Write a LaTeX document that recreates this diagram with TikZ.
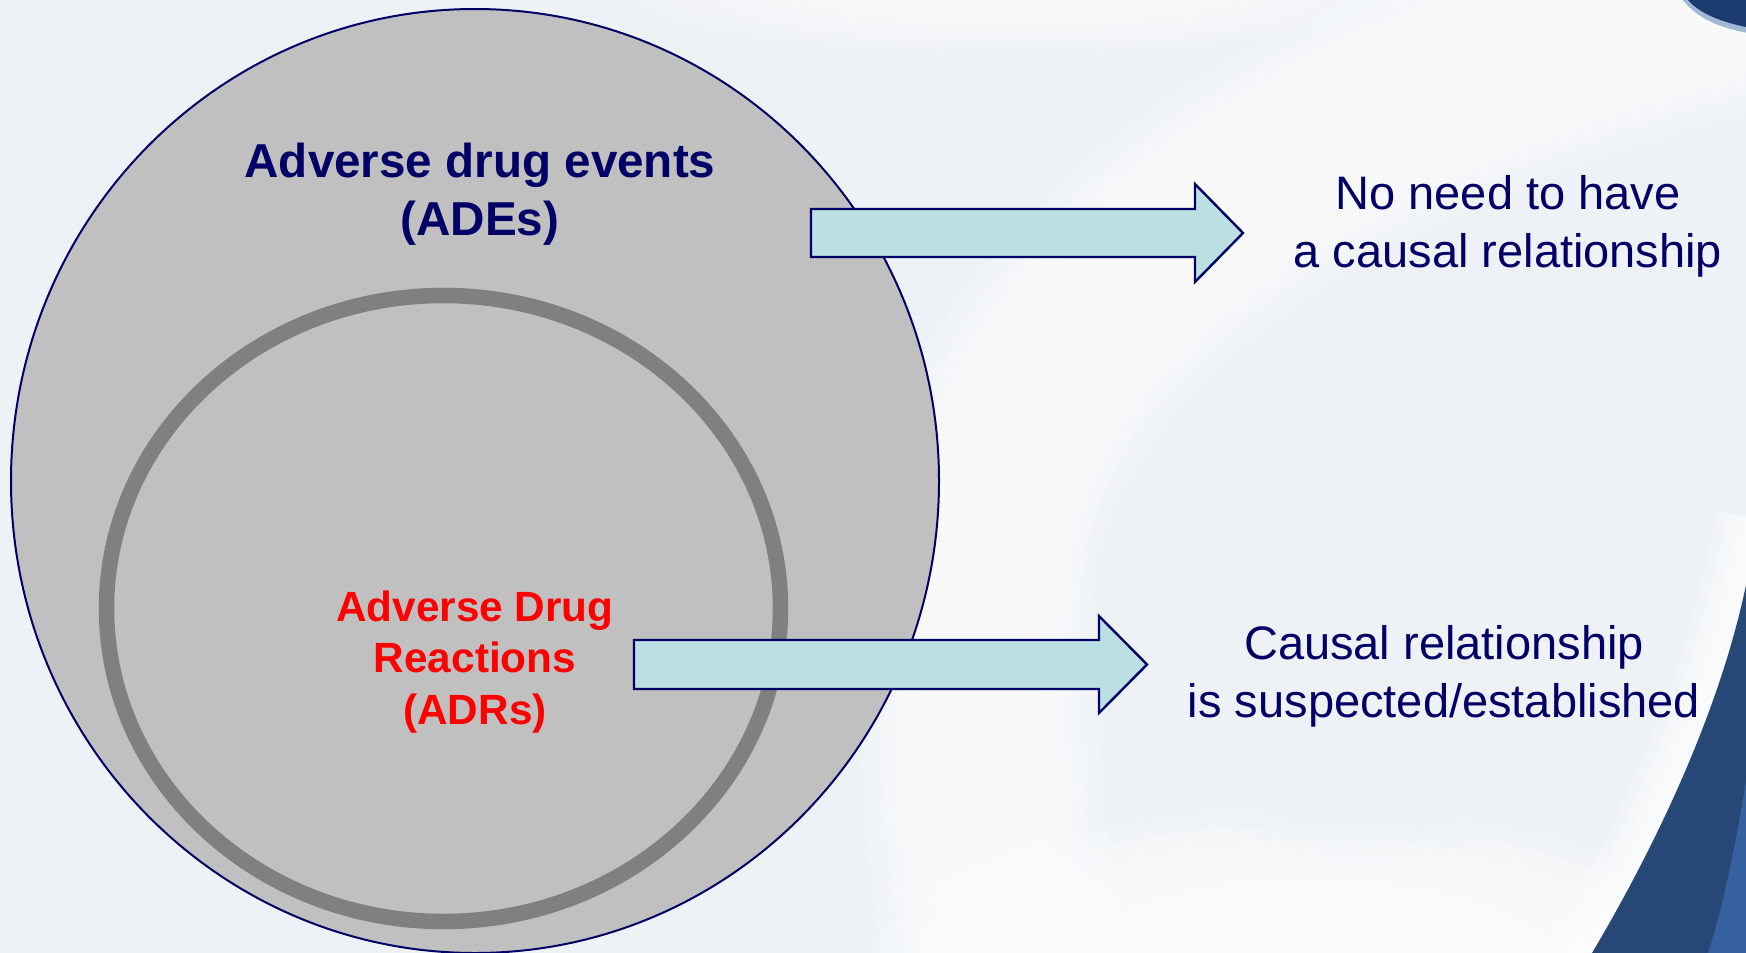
\documentclass[tikz,border=0pt]{standalone}
\usepackage{fontspec}
\setmainfont{Liberation Sans}
\usetikzlibrary{shapes.geometric}
\definecolor{bg}{HTML}{EEF2F6}
\definecolor{navy}{HTML}{000066}
\definecolor{setfill}{HTML}{C0C0C0}
\definecolor{ringgray}{HTML}{808080}
\definecolor{arrowfill}{HTML}{BBE0E3}
\definecolor{swooshdark}{HTML}{274776}
\definecolor{swooshlight}{HTML}{3561A0}
\definecolor{blobdark}{HTML}{1B3B6E}
\definecolor{bloblight}{HTML}{4A78B8}
\tikzset{
  outerset/.style={ellipse, inner sep=0pt, fill=setfill, draw=navy, line width=2pt},
  innerset/.style={ellipse, inner sep=0pt, draw=ringgray, line width=15.5pt},
  blockarrow/.style={fill=arrowfill, draw=navy, line width=2.4pt, line join=miter},
  adetext/.style={text=navy, align=center, inner sep=0pt, anchor=base,
    font=\fontsize{47.6pt}{58pt}\selectfont\bfseries},
  adrtext/.style={text=red, align=center, inner sep=0pt, anchor=base,
    font=\fontsize{42.3pt}{51.2pt}\selectfont\bfseries},
  sidetext/.style={text=navy, align=center, inner sep=0pt, anchor=base,
    font=\fontsize{47pt}{58pt}\selectfont},
}
\begin{document}
\begin{tikzpicture}[x=1pt,y=-1pt]
\useasboundingbox (0,0) rectangle (1746,953);
% background
\fill[bg] (0,0) rectangle (1746,953);
% soft white band
\foreach \w in {240,220,...,40}
  \draw[white, line width=\w pt, opacity=0.16, line cap=round]
    (1700,0) .. controls (1300,110) and (1010,300) .. (985,560)
    .. controls (970,760) and (990,880) .. (1010,990);
% soft white bottom
\foreach \s in {1.0,0.92,...,0.4}
  \fill[white, opacity=0.22] (1310,990) ellipse ({450*\s} and {180*\s});
% soft white top streak
\foreach \s in {1.0,0.9,...,0.4}
  \fill[white, opacity=0.14] (1020,-5) ellipse ({380*\s} and {55*\s});
% grey oval over the white
\foreach \s in {1.0,0.95,...,0.7}
  \fill[bg, opacity=0.2] (1370,600) ellipse ({290*\s} and {260*\s});
\fill[bg] (1370,600) ellipse (200 and 175);
% glow along swoosh
\foreach \w in {90,70,50,30}
  \draw[white, line width=\w pt, opacity=0.25]
    (1762,520) .. controls (1725,700) and (1668,830) .. (1585,968);
% blue swoosh
\fill[swooshdark] (1746,585) .. controls (1722,700) and (1665,830) .. (1592,953)
  -- (1746,953) -- cycle;
\fill[swooshlight] (1746,780) .. controls (1735,850) and (1722,910) .. (1708,953)
  -- (1746,953) -- cycle;
% top right blob
\draw[bloblight, line width=6pt, opacity=0.5] (1684,-3) .. controls (1700,17) and (1722,25) .. (1748,30);
\fill[blobdark] (1688,0) .. controls (1700,14) and (1722,22) .. (1746,27) -- (1746,0) -- cycle;

% sets
\node[outerset, minimum width=928pt, minimum height=944pt] (ade) at (475,481) {};
\node[innerset, minimum width=674pt, minimum height=626pt] (adr) at (443.5,608.5) {};

% labels in the sets (anchor base = baseline of last line)
\node[adetext] (adelabel) at (480,235.3) {Adverse drug events\\(ADEs)};
\node[adrtext] (adrlabel) at (475,724) {Adverse Drug\\Reactions\\(ADRs)};

% block arrows
\draw[blockarrow] (811,209) -- (1195,209) -- (1195,184) -- (1243,233)
  -- (1195,282) -- (1195,257) -- (811,257) -- cycle;
\draw[blockarrow] (634,640) -- (1099,640) -- (1099,616) -- (1147,664.5)
  -- (1099,713) -- (1099,689) -- (634,689) -- cycle;

% side texts
\node[sidetext] (nocausal) at (1508,267.5) {No need to have\\a causal relationship};
\node[sidetext] (causal) at (1444,717.5) {Causal relationship\\is suspected/established};
\end{tikzpicture}
\end{document}
